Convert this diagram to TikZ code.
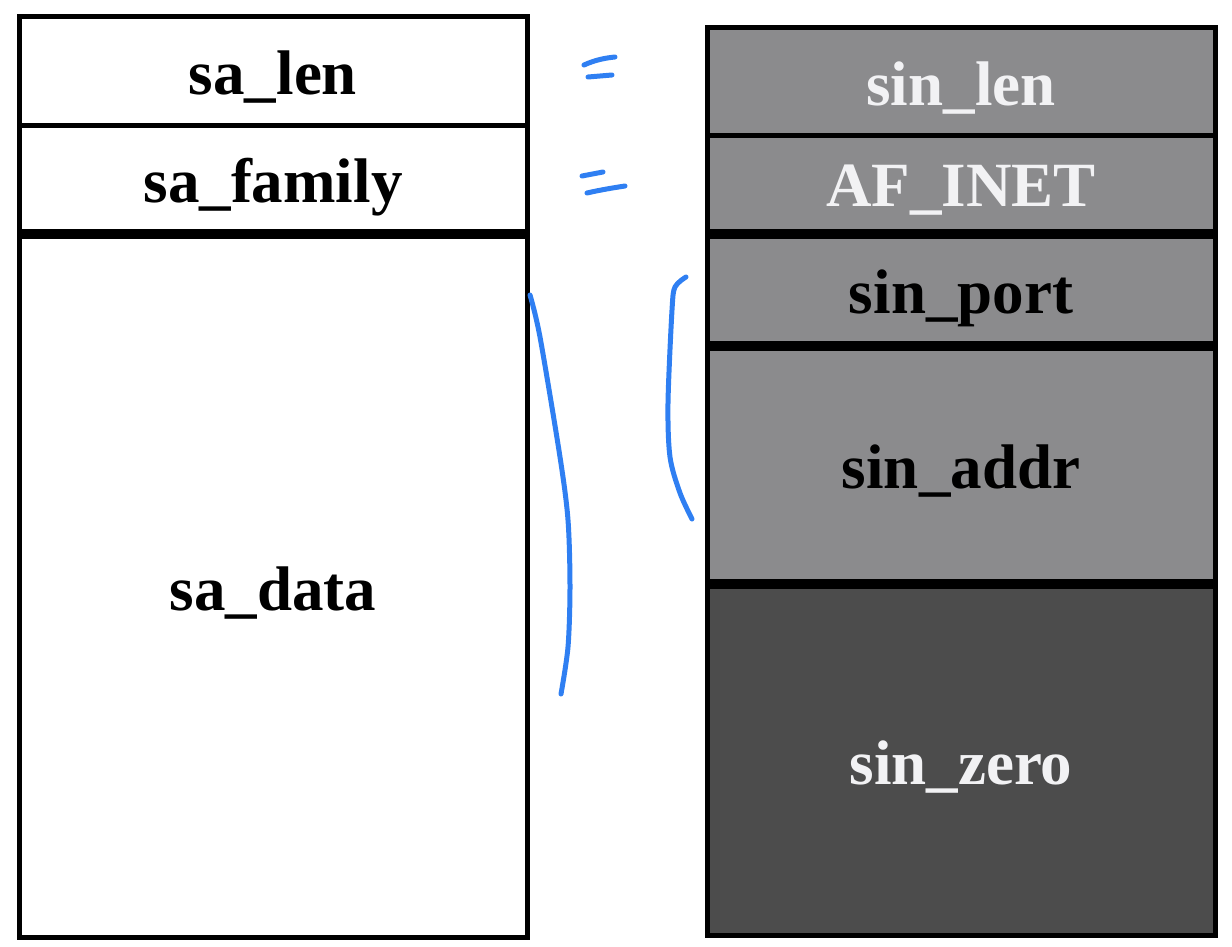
\documentclass[tikz,border=0pt]{standalone}
\usepackage{fontspec}
\setmainfont{Liberation Serif}
\usepackage{tikz}
\definecolor{boxgrey}{HTML}{8B8B8D}
\definecolor{zerogrey}{HTML}{4C4C4C}
\definecolor{pale}{HTML}{F2F2F4}
\definecolor{pen}{HTML}{2F7FF2}

\begin{document}
\begin{tikzpicture}[x=1pt,y=-1pt,
  cell/.style={draw,line width=5pt,minimum width=508pt,inner sep=0pt,outer sep=0pt,
    anchor=north west,text height=47pt,text depth=0pt,
    font=\bfseries\fontsize{63}{70}\selectfont},
  grey/.style={cell,fill=boxgrey},
  ink/.style={pen,line width=5pt,line cap=round,line join=round}]
\useasboundingbox (0,0) rectangle (1232,947);

% sockaddr
\node [cell,minimum height=109pt] (salen) at (19,17) {sa\_len};
\node [cell,minimum height=105pt] (safam) at (19,126) {sa\_family};
\node [cell,minimum height=701pt] (sadata) at (19,236) {sa\_data};

% sockaddr_in
\node [grey,minimum height=108pt,text=pale] (sinlen) at (707,28) {sin\_len};
\node [grey,minimum height=95pt,text=pale] (afinet) at (707,136) {AF\_INET};
\node [grey,minimum height=107pt] (sinport) at (707,236) {sin\_port};
\node [grey,minimum height=233pt] (sinaddr) at (707,348) {sin\_addr};
\node [cell,fill=zerogrey,minimum height=349pt,text=pale] (sinzero) at (707,586) {sin\_zero};

% pen marks
\draw [ink] (584,65) .. controls (595,60) and (605,58) .. (615,57);
\draw [ink] (588,77) -- (612,75);
\draw [ink] (582,176) -- (603,172);
\draw [ink] (587,193) .. controls (600,190) and (612,188) .. (625,186);
\draw [ink] plot [smooth] coordinates {(530,295) (540,337) (560,457) (568,520) (570,587) (568,647) (561,694)};
\draw [ink] plot [smooth] coordinates {(686,277) (675,287) (672,310) (668,403) (670,457) (680,493) (692,519)};
\end{tikzpicture}
\end{document}
